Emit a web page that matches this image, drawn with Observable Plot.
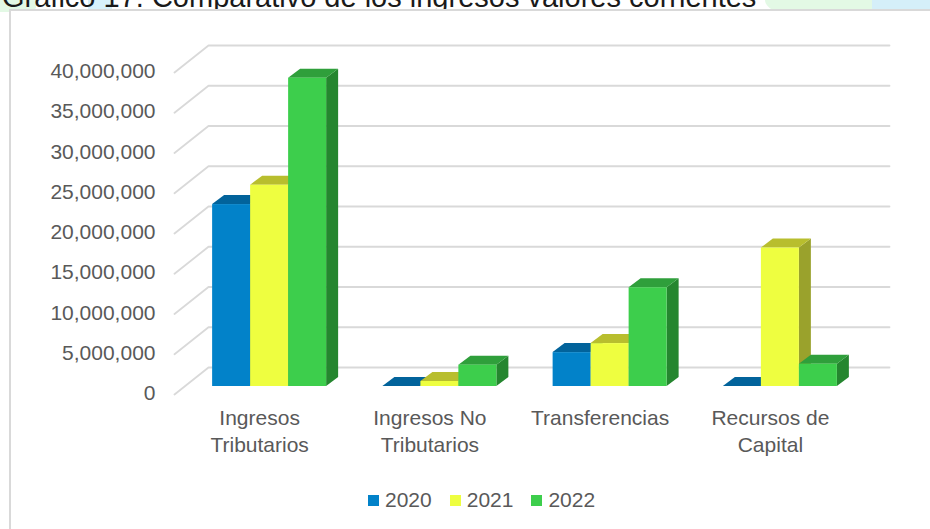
<!DOCTYPE html>
<html>
<head>
<meta charset="utf-8">
<script src="https://cdn.jsdelivr.net/npm/d3@7"></script>
<script src="https://cdn.jsdelivr.net/npm/@observablehq/plot@0.6"></script>
<style>
  html, body { margin: 0; padding: 0; background: #fff; }
  body { width: 930px; height: 529px; overflow: hidden; position: relative;
         font-family: "Liberation Sans", Arial, sans-serif; }
  .blob { position: absolute; }
  #title { position: absolute; left: 2px; top: -17px; font-size: 29px; line-height: 29px;
           color: #1a1a1a; white-space: nowrap; }
  #frame { position: absolute; left: 9px; top: 9px; width: 1000px; height: 600px;
           border-left: 2px solid #d9d9d9; border-top: 2px solid #d9d9d9; background: #fff; }
  #chart { position: absolute; left: 0; top: 0; }
  #legend { position: absolute; left: 368px; top: 488px; height: 24px; display: flex;
            align-items: center; gap: 18px; font-size: 21px; line-height: 24px; color: #595959; }
  #legend .item { display: flex; align-items: center; }
  #legend .sw { width: 11px; height: 11px; margin-right: 6px; }
</style>
</head>
<body>
<div class="blob" style="left:0;top:0;width:36px;height:12px;background:#e3f9e5;border-radius:0 0 40% 0;"></div>
<div class="blob" style="left:88px;top:0;width:24px;height:12px;background:#d8f1fb;"></div>
<div class="blob" style="left:765px;top:-20px;width:115px;height:40px;background:#e3f9e5;border-radius:50%;"></div>
<div class="blob" style="left:872px;top:0;width:58px;height:12px;background:#d5eff9;"></div>
<div id="title">Gráfico 17. Comparativo de los ingresos valores corrientes</div>
<div id="frame"></div>
<div id="chart"></div>
<div id="legend"></div>
<script>
// ---- data ----
const categories = ["Ingresos\nTributarios", "Ingresos No\nTributarios", "Transferencias", "Recursos de\nCapital"];
const years = ["2020", "2021", "2022"];
const values2020 = [22600000, 0, 4210000, 0];
const values2021 = [25000000, 620000, 5330000, 17200000];
const values2022 = [38300000, 2650000, 12270000, 2770000];
const yTicks = [0, 5000000, 10000000, 15000000, 20000000, 25000000, 30000000, 35000000, 40000000];

// ---- styling ----
const frontColors = ["#0282C9", "#EEFE40", "#3DCE4C"];
const topColors   = ["#02639B", "#B8BE2E", "#2F9F3B"];
const sideColors  = ["#015688", "#9AA22C", "#25862F"];

// ---- layout ----
const W = 930, H = 480, ML = 184, MR = 65, MT = 64, MB = 94;
const YMAX = 40000000;
const kx = (W - ML - MR) / categories.length;   // px per category unit
const ky = (H - MT - MB) / YMAX;                // px per value unit
const ux = p => p / kx, uy = p => p / ky;
const barW = ux(38);
const groupPad = (1 - years.length * barW) / 2;
const depth = {x: ux(12), y: uy(9)};     // column depth
const front = {x: ux(-10), y: uy(-8)};   // front plane of the 3D box
const back  = {x: ux(24), y: uy(19)};    // back wall

const series = [values2020, values2021, values2022];
const bars = [];
categories.forEach((c, i) => series.forEach((vals, j) => {
  const x1 = i + groupPad + j * barW;
  bars.push({id: i + "-" + j, cat: c, year: years[j], j, x1, x2: x1 + barW, v: vals[i]});
}));
const sides = bars.flatMap(b => [
  {id: b.id, j: b.j, x: b.x2, y1: 0, y2: b.v},
  {id: b.id, j: b.j, x: b.x2 + depth.x, y1: depth.y, y2: b.v + depth.y}
]);
const tops = bars.flatMap(b => [
  {id: b.id, j: b.j, y: b.v, x1: b.x1, x2: b.x2},
  {id: b.id, j: b.j, y: b.v + depth.y, x1: b.x1 + depth.x, x2: b.x2 + depth.x}
]);
const grid = yTicks.flatMap(t => [
  {t, x: front.x, y: t + front.y},
  {t, x: back.x, y: t + back.y},
  {t, x: categories.length + back.x, y: t + back.y}
]);

const chart = Plot.plot({
  width: W, height: H,
  marginLeft: ML, marginRight: MR, marginTop: MT, marginBottom: MB,
  x: {type: "linear", domain: [0, categories.length], axis: null},
  y: {type: "linear", domain: [0, YMAX], axis: null},
  color: {type: "identity"},
  style: {fontFamily: "'Liberation Sans', Arial, sans-serif", fontSize: "21px", color: "#595959", background: "transparent", overflow: "visible"},
  marks: [
    Plot.line(grid, {x: "x", y: "y", z: "t", stroke: "#d9d9d9", strokeWidth: 1.8}),
    Plot.text(yTicks, {x: () => 0, y: d => d, text: d => d3.format(",")(d), textAnchor: "end",
                       dx: -29, dy: 7, fill: "#595959", fontSize: 21}),
    Plot.text(categories, {x: (d, i) => i + 0.5, y: () => 0, text: d => d, dx: -10, dy: 20,
                           lineAnchor: "top", lineHeight: 1.27, fill: "#595959", fontSize: 21}),
    Plot.areaY(sides, {x: "x", y1: "y1", y2: "y2", z: "id", fill: d => sideColors[d.j]}),
    Plot.areaX(tops, {y: "y", x1: "x1", x2: "x2", z: "id", fill: d => topColors[d.j]}),
    Plot.rect(bars, {x1: "x1", x2: "x2", y1: () => 0, y2: "v", fill: d => frontColors[d.j]})
  ]
});
document.getElementById("chart").appendChild(chart);

const legend = document.getElementById("legend");
years.forEach((y, j) => {
  const item = document.createElement("div");
  item.className = "item";
  item.innerHTML = `<span class="sw" style="background:${frontColors[j]}"></span><span>${y}</span>`;
  legend.appendChild(item);
});
</script>
</body>
</html>
